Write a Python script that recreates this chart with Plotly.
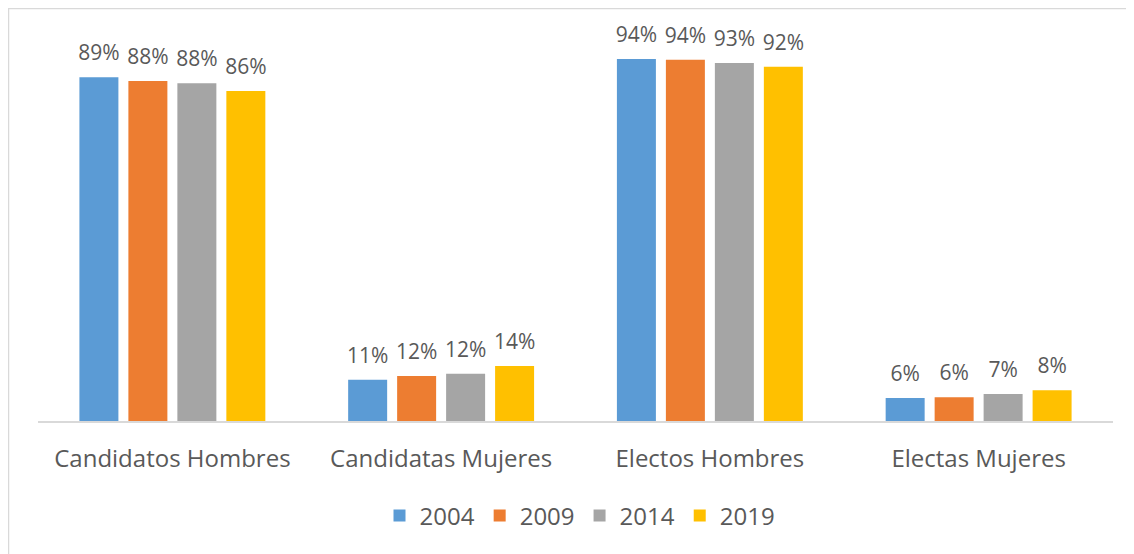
import plotly.graph_objs as go

categories = ["Candidatos Hombres", "Candidatas Mujeres", "Electos Hombres", "Electas Mujeres"]
years = ["2004", "2009", "2014", "2019"]
colors = ["#5b9bd5", "#ed7d31", "#a5a5a5", "#ffc000"]

v2004 = [0.893, 0.107, 0.940, 0.060]
v2009 = [0.883, 0.117, 0.938, 0.062]
v2014 = [0.877, 0.123, 0.930, 0.070]
v2019 = [0.857, 0.143, 0.920, 0.080]
series = [v2004, v2009, v2014, v2019]

FONT = "Open Sans"
TXT = "#595959"
BARGAP = 0.271
GROUPGAP = 0.204

fig = go.Figure()
for name, vals, col in zip(years, series, colors):
    fig.add_trace(go.Bar(
        x=categories,
        y=vals,
        name=name,
        marker=dict(color=col, line=dict(width=0)),
    ))

# data labels: text-only scatter on a hidden linear x axis that lines up with
# the category axis, pushed up by an invisible marker to match the original gap
slot = (1 - BARGAP) / len(years)
for j, vals in enumerate(series):
    off = (j - (len(years) - 1) / 2) * slot
    fig.add_trace(go.Scatter(
        x=[i + off for i in range(len(categories))],
        y=vals,
        xaxis="x2",
        mode="markers+text",
        marker=dict(size=17, opacity=0),
        text=[f"{v:.0%}" for v in vals],
        textposition="top center",
        textfont=dict(family=FONT, size=21, color=TXT),
        showlegend=False,
        hoverinfo="skip",
        cliponaxis=False,
    ))

# page body adds 8px margin, so the figure is sized to fill the rest
W, H = 1126, 546
L, R, T, B = 30, 21, 28, 133
pw, ph = W - L - R, H - T - B

fig.update_layout(
    width=W, height=H,
    margin=dict(l=L, r=R, t=T, b=B, pad=0),
    paper_bgcolor="white",
    plot_bgcolor="white",
    barmode="group",
    bargap=BARGAP,
    bargroupgap=GROUPGAP,
    showlegend=True,
    legend=dict(
        orientation="h",
        x=0.5 + 4.5 / pw, xanchor="center",
        y=-(508 - (T + ph)) / ph, yanchor="middle",
        font=dict(family=FONT, size=24, color=TXT),
        itemwidth=30,
        traceorder="normal",
    ),
    xaxis=dict(
        type="category",
        categoryorder="array", categoryarray=categories,
        range=[-0.5, len(categories) - 0.5],
        showline=True, linecolor="#d9d9d9", linewidth=2,
        showgrid=False, ticks="", ticklabelstandoff=15,
        tickfont=dict(family=FONT, size=24, color=TXT),
    ),
    xaxis2=dict(
        type="linear", overlaying="x", anchor="y",
        range=[-0.5, len(categories) - 0.5],
        visible=False, showgrid=False, zeroline=False,
    ),
    yaxis=dict(
        range=[0, 1], visible=False, showgrid=False, zeroline=False,
    ),
)

# light chart border along the top and left edges
fig.add_shape(type="line", xref="paper", yref="paper",
              x0=-L / pw, x1=(W - L) / pw,
              y0=(H - B - 0.5) / ph, y1=(H - B - 0.5) / ph,
              line=dict(color="#d9d9d9", width=1.5))
fig.add_shape(type="line", xref="paper", yref="paper",
              x0=(0.5 - L) / pw, x1=(0.5 - L) / pw,
              y0=(H - B) / ph, y1=-B / ph,
              line=dict(color="#d9d9d9", width=1.5))

fig.write_html("out.html")
